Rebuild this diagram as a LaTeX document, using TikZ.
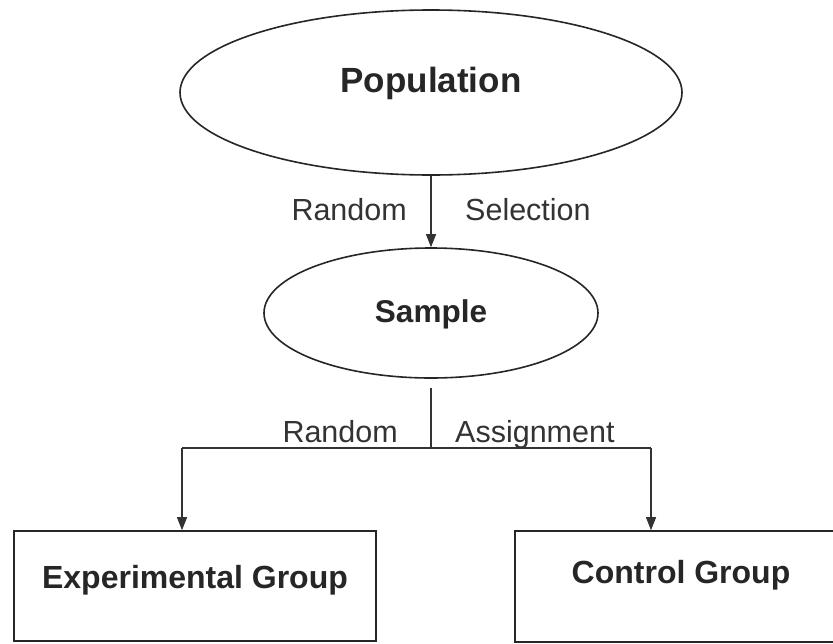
\documentclass[tikz,border=0pt]{standalone}
\usepackage{fontspec}
\setmainfont{Liberation Sans}
\usetikzlibrary{shapes.geometric,arrows.meta}
\begin{document}
\begin{tikzpicture}[x=1pt,y=-1pt,
  oval/.style={draw=black!85,line width=1.6pt,ellipse,inner sep=0pt},
  grp/.style={draw=black!85,line width=1.6pt,inner sep=0pt},
  conn/.style={draw=black!80,line width=1.2pt},
  arr/.style={conn,-{Triangle[length=13pt,width=10pt]}},
  lbl/.style={font=\fontsize{30.5}{36}\selectfont,text=black!80,inner sep=0pt},
  blbl/.style={font=\fontsize{31.5}{37}\selectfont\bfseries,text=black!85,inner sep=0pt}]
\clip (0,0) rectangle (833,643);
\fill[white] (0,0) rectangle (833,643);
% ellipses
\node[oval,minimum width=502pt,minimum height=165pt] (pop) at (431,92.5) {};
\node[blbl,anchor=base,font=\fontsize{35}{40}\selectfont\bfseries] (popt) at (431,92) {Population};
\node[oval,minimum width=334pt,minimum height=130pt] (samp) at (431,313) {};
\node[blbl,anchor=base] (sampt) at (431,322) {Sample};
% boxes
\node[grp,minimum width=362pt,minimum height=110pt] (exp) at (195,586) {};
\node[blbl,anchor=base,font=\fontsize{32}{37}\selectfont\bfseries] (expt) at (195,588) {Experimental Group};
\node[grp,minimum width=330pt,minimum height=111pt] (ctl) at (680,586.5) {};
\node[blbl,anchor=base,font=\fontsize{32}{37}\selectfont\bfseries] (ctlt) at (681,583) {Control Group};
% connector 1
\draw[arr] (pop.south) -- (samp.north);
\node[lbl,anchor=base east] (r1) at (407,220) {Random};
\node[lbl,anchor=base west] (s1) at (465,220) {Selection};
% connector 2
\coordinate (js) at (431,388);
\coordinate (j) at (431,448);
\coordinate (jl) at (182,448);
\coordinate (jr) at (651,448);
\draw[conn] (js) -- (j);
\draw[conn] (jl) -- (jr);
\draw[arr] (jl) -- (jl |- exp.north);
\draw[arr] (jr) -- (jr |- ctl.north);
\node[lbl,anchor=base east] (r2) at (398,442) {Random};
\node[lbl,anchor=base west] (a2) at (455,442) {Assignment};
\end{tikzpicture}
\end{document}
